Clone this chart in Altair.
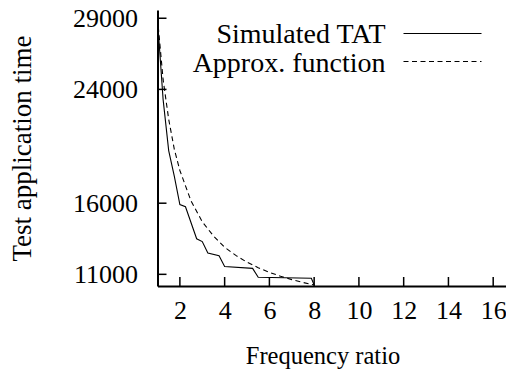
import altair as alt
import pandas as pd

# Simulated TAT (solid line)
sim_x = [1, 1.25, 1.5, 1.75, 2, 2.25, 2.75, 3, 3.25, 3.75, 4, 5.25, 5.5, 7.875, 8]
sim_y = [28900, 23300, 19700, 17900, 15900, 15750, 13500, 13300, 12500, 12300,
         11550, 11420, 10800, 10720, 10250]

# Approx. function (dashed line)
apx_x = [1, 1.25, 1.5, 1.75, 2, 2.5, 3, 3.5, 4, 4.5, 5, 5.5, 6, 6.5, 7, 7.5, 8]
apx_y = [29000, 24700, 21900, 19800, 18300, 16150, 14700, 13700, 12900, 12330,
         11850, 11470, 11140, 10870, 10630, 10430, 10250]

x_ticks = [2, 4, 6, 8, 10, 12, 14, 16]
y_ticks = [11000, 16000, 24000, 29000]
series_names = ["Simulated TAT", "Approx. function"]

FONT = "'Liberation Serif', 'Times New Roman', Times, serif"
FS_LAB = 26
FS_XTIT = 24.5
FS_YTIT = 27
FS_LEG = 28
W, H = 348, 276
x_dom = [1, 16.55]
y_dom = [10180, 29580]

sim_df = pd.DataFrame({"x": sim_x, "y": sim_y})
apx_df = pd.DataFrame({"x": apx_x, "y": apx_y})
xt_df = pd.DataFrame({"x": x_ticks})
yt_df = pd.DataFrame({"y": y_ticks})

xs = alt.Scale(domain=x_dom, nice=False, zero=False)
ys = alt.Scale(domain=y_dom, nice=False, zero=False)

xaxis = alt.Axis(values=x_ticks, title="Frequency ratio", tickSize=0, grid=False,
                 labelPadding=11, titlePadding=21, titleX=165, domainWidth=2,
                 domainColor="black",
                 labelFont=FONT, labelFontSize=FS_LAB, titleFont=FONT, titleFontSize=FS_XTIT,
                 titleFontWeight="normal", labelColor="black", titleColor="black")
yaxis = alt.Axis(values=y_ticks, title="Test application time", tickSize=0, grid=False,
                 labelPadding=20, titlePadding=36, domainWidth=2, domainColor="black",
                 labelFont=FONT, labelFontSize=FS_LAB, titleFont=FONT, titleFontSize=FS_YTIT,
                 titleFontWeight="normal", labelColor="black", titleColor="black",
                 format="d")

sim_line = alt.Chart(sim_df).mark_line(color="black", strokeWidth=1.1, clip=True).encode(
    x=alt.X("x:Q", scale=xs, axis=xaxis),
    y=alt.Y("y:Q", scale=ys, axis=yaxis),
)
apx_line = alt.Chart(apx_df).mark_line(color="black", strokeWidth=1.1,
                                       strokeDash=[5, 3.5], clip=True).encode(
    x=alt.X("x:Q", scale=xs),
    y=alt.Y("y:Q", scale=ys),
)

# inward tick marks (gnuplot style)
x_tick_marks = alt.Chart(xt_df).mark_rule(color="black", strokeWidth=1.5).encode(
    x=alt.X("x:Q", scale=xs),
    y=alt.value(H),
    y2=alt.value(H - 9),
)
y_tick_marks = alt.Chart(yt_df).mark_rule(color="black", strokeWidth=1.5).encode(
    y=alt.Y("y:Q", scale=ys),
    x=alt.value(0),
    x2=alt.value(9),
)

layers = [sim_line, apx_line, x_tick_marks, y_tick_marks]

# legend (label on the left, sample line on the right)
dashes = [[1, 0], [5, 3.5]]
for i, name in enumerate(series_names):
    ldf = pd.DataFrame({"name": [name]})
    layers.append(
        alt.Chart(ldf).mark_text(font=FONT, fontSize=FS_LEG, align="right",
                                 baseline="alphabetic", color="black").encode(
            text="name:N", x=alt.value(228), y=alt.value(33 + 28.5 * i))
    )
    layers.append(
        alt.Chart(ldf).mark_rule(color="black", strokeWidth=1.1, strokeDash=dashes[i]).encode(
            x=alt.value(246), x2=alt.value(324), y=alt.value(23.5 + 28 * i))
    )

chart = alt.layer(*layers).properties(
    width=W, height=H,
    autosize=alt.AutoSizeParams(type="none"),
    padding={"left": 157.5, "top": 10, "right": 0.5, "bottom": 90},
    background="white",
).configure_view(stroke=None)

chart.save("out.html", embed_options={"renderer": "svg", "actions": False})
